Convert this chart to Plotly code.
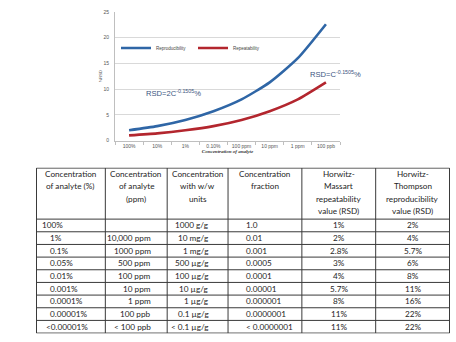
import plotly.graph_objects as go

# Horwitz curves: RSD versus analyte concentration
concentrations = ["100%", "10%", "1%", "0.10%", "100 ppm", "10 ppm", "1 ppm", "100 ppb"]
reproducibility = [2.0, 2.8, 4.0, 5.7, 8.0, 11.3, 16.0, 22.6]
repeatability = [1.0, 1.4, 2.0, 2.8, 4.0, 5.7, 8.0, 11.3]
y_ticks = [0, 5, 10, 15, 20, 25]

# Summary table
table_headers = [
    ["Concentration", "of analyte (%)"],
    ["Concentration", "of analyte", "(ppm)"],
    ["Concentration", "with w/w", "units"],
    ["Concentration", "fraction"],
    ["Horwitz-", "Massart", "repeatability", "value (RSD)"],
    ["Horwitz-", "Thompson", "reproducibility", "value (RSD)"],
]
col_percent = ["100%", "1%", "0.1%", "0.05%", "0.01%", "0.001%", "0.0001%", "0.00001%", "<0.00001%"]
col_ppm = ["", "10,000 ppm", "1000 ppm", "500 ppm", "100 ppm", "10 ppm", "1 ppm", "100 ppb", "< 100 ppb"]
col_ww = ["1000 g/g", "10 mg/g", "1 mg/g", "500 µg/g", "100 µg/g", "10 µg/g", "1 µg/g", "0.1 µg/g", "< 0.1 µg/g"]
col_fraction = ["1.0", "0.01", "0.001", "0.0005", "0.0001", "0.00001", "0.000001", "0.0000001", "< 0.0000001"]
col_repeat = ["1%", "2%", "2.8%", "3%", "4%", "5.7%", "8%", "11%", "11%"]
col_reprod = ["2%", "4%", "5.7%", "6%", "8%", "11%", "16%", "22%", "22%"]
table_columns = [col_percent, col_ppm, col_ww, col_fraction, col_repeat, col_reprod]

W, H = 456, 342
BLUE = "#2f66a6"
RED = "#b3262e"
GRID = "#d9d9d9"
TABLE_FONT = dict(family="Lato, Open Sans, sans-serif", size=8.2, color="#1e1e1e")

# Table geometry (in table-axis units: x in px-like widths, y in row heights)
col_widths = [69, 62, 61, 74, 74, 74]
col_align = ["left", "right", "right", "left", "center", "center"]
col_pad = [12, 14, 17, 16, 0, 0]
first_col_indent = {0: 4, 8: 8}
header_rows = 4.03
header_line_step = 0.977
n_rows = len(col_percent)
table_total = header_rows + n_rows

fig = go.Figure()

fig.add_trace(go.Scatter(
    x=concentrations, y=reproducibility, mode="lines", name="Reproducibility",
    line=dict(color=BLUE, width=2.6, shape="spline", smoothing=0.6),
))
fig.add_trace(go.Scatter(
    x=concentrations, y=repeatability, mode="lines", name="Repeatability",
    line=dict(color=RED, width=2.6, shape="spline", smoothing=0.6),
))

fig.add_annotation(
    x=1.58, y=9.3, xref="x", yref="y", showarrow=False, xanchor="center",
    text="RSD=2C<sup>-0.1505</sup>%",
    font=dict(family="Liberation Sans, Arial, sans-serif", size=7.6, color="#3b5580"),
)
fig.add_annotation(
    x=6.37, y=12.9, xref="x", yref="y", showarrow=False, xanchor="left",
    text="RSD=C<sup>-0.1505</sup>%",
    font=dict(family="Liberation Sans, Arial, sans-serif", size=7.6, color="#3b5580"),
)

# ---- table drawn on its own axes ----
edges = [0]
for w in col_widths:
    edges.append(edges[-1] + w)

shapes = []
line_style = dict(color="#3a3a3a", width=1)
for e in edges:
    shapes.append(dict(type="line", xref="x2", yref="y2", x0=e, x1=e, y0=0, y1=table_total, line=line_style))
row_edges = [0, header_rows] + [header_rows + i + 1 for i in range(n_rows)]
for r in row_edges:
    shapes.append(dict(type="line", xref="x2", yref="y2", x0=0, x1=edges[-1], y0=r, y1=r, line=line_style))

for ci, lines in enumerate(table_headers):
    mid = (edges[ci] + edges[ci + 1]) / 2
    for li, txt in enumerate(lines):
        fig.add_annotation(
            x=mid, y=0.465 + header_line_step * li, xref="x2", yref="y2",
            text=txt, showarrow=False, xanchor="center", yanchor="middle",
            font=TABLE_FONT,
        )

for ci, column in enumerate(table_columns):
    for ri, txt in enumerate(column):
        if not txt:
            continue
        yc = header_rows + ri + 0.5
        if col_align[ci] == "left":
            pad = first_col_indent.get(ri, col_pad[ci]) if ci == 0 else col_pad[ci]
            x, anchor = edges[ci] + pad, "left"
        elif col_align[ci] == "right":
            x, anchor = edges[ci + 1] - col_pad[ci], "right"
        else:
            x, anchor = (edges[ci] + edges[ci + 1]) / 2, "center"
        fig.add_annotation(
            x=x, y=yc, xref="x2", yref="y2", text=txt, showarrow=False,
            xanchor=anchor, yanchor="middle", font=TABLE_FONT,
        )

fig.update_layout(
    width=W, height=H,
    margin=dict(l=0, r=0, t=0, b=0),
    paper_bgcolor="white", plot_bgcolor="white",
    shapes=shapes,
    showlegend=True,
    legend=dict(
        orientation="h", x=116 / W, y=1 - 31 / H,
        xanchor="left", yanchor="top",
        font=dict(family="Liberation Sans, Arial, sans-serif", size=4.5, color="#444444"),
        itemwidth=30, entrywidth=32, entrywidthmode="pixels",
        bgcolor="rgba(0,0,0,0)",
    ),
    xaxis=dict(
        domain=[115 / W, 340 / W], range=[-0.5, len(concentrations) - 0.5],
        type="category", tickangle=0,
        tickfont=dict(family="Liberation Sans, Arial, sans-serif", size=5, color="#555555"),
        showgrid=False, showline=True, linecolor="#bfbfbf", linewidth=1,
        ticks="outside", ticklen=3, tickcolor="#bfbfbf", tickson="boundaries",
        title=dict(text="<b><i>Concentration of analyte</i></b>",
                   font=dict(family="Liberation Serif, serif", size=5, color="#333333"),
                   standoff=1),
        fixedrange=True,
    ),
    yaxis=dict(
        domain=[1 - 140 / H, 1 - 9 / H],
        range=[0, 25], tickvals=y_ticks,
        tickfont=dict(family="Liberation Sans, Arial, sans-serif", size=5, color="#555555"),
        showgrid=True, gridcolor=GRID, gridwidth=1,
        showline=True, linecolor="#bfbfbf", linewidth=1,
        zeroline=False, ticks="", ticklabelstandoff=4,
        title=dict(text="%RSD", font=dict(family="Liberation Sans, Arial, sans-serif", size=4, color="#555555"),
                   standoff=1),
        fixedrange=True,
    ),
    xaxis2=dict(
        domain=[36 / W, 450 / W], range=[-0.5, edges[-1] + 0.5], anchor="y2",
        visible=False, fixedrange=True,
    ),
    yaxis2=dict(
        domain=[1 - 336.5 / H, 1 - 167.5 / H], range=[table_total + 0.04, -0.04], anchor="x2",
        visible=False, fixedrange=True,
    ),
)

fig.write_html("out.html")
